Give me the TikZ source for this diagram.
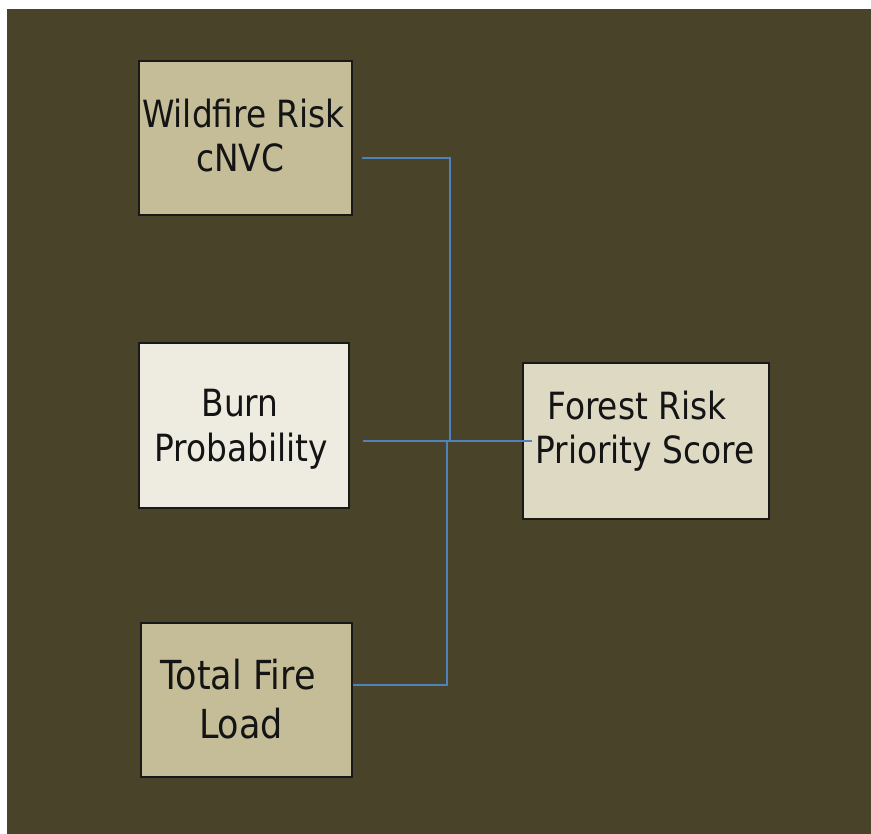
\documentclass[tikz,border=0pt]{standalone}
\usepackage{fontspec}
\setmainfont{DejaVu Sans}[FakeStretch=0.875]
\usetikzlibrary{calc}
\definecolor{bgolive}{HTML}{494429}
\definecolor{tandark}{HTML}{C4BD97}
\definecolor{tanlight}{HTML}{EEECE1}
\definecolor{tanmid}{HTML}{DDD9C3}
\definecolor{linkblue}{HTML}{4F81BD}
\tikzset{
  box/.style={draw=black!90, line width=2pt, inner sep=0pt, anchor=north west},
  txt/.style={anchor=base, inner sep=0pt, font=\fontsize{37.5}{44}\selectfont, text=black!92},
  txtbig/.style={anchor=base, inner sep=0pt, font=\fontsize{40}{48}\selectfont, text=black!92},
  link/.style={draw=linkblue, line width=2pt}
}
\begin{document}
\begin{tikzpicture}[x=1pt,y=-1pt]
\useasboundingbox (0,0) rectangle (871,834);
\fill[white] (0,0) rectangle (871,834);
\fill[bgolive] (7,9) rectangle (871,834);
% boxes
\node[box, fill=tandark, minimum width=213pt, minimum height=154pt] (wild) at (138,60) {};
\node[box, fill=tanlight, minimum width=210pt, minimum height=165pt] (burn) at (138,342) {};
\node[box, fill=tandark, minimum width=211pt, minimum height=154pt] (total) at (140,622) {};
\node[box, fill=tanmid, minimum width=246pt, minimum height=156pt] (forest) at (522,362) {};
% texts
\node[txt] (wild1) at (243.5,128) {Wildfire Risk};
\node[txt] (wild2) at (240,172) {cNVC};
\node[txt] (burn1) at (240,417) {Burn};
\node[txt] (burn2) at (241,462) {Probability};
\node[txt] (forest1) at (637,420) {Forest Risk};
\node[txt] (forest2) at (645,464) {Priority Score};
\node[txtbig] (total1) at (238,689) {Total Fire};
\node[txtbig] (total2) at (241,738) {Load};
% connector points
\coordinate (wout) at ($(wild.north east)+(9,98)$);
\coordinate (bout) at ($(burn.north east)+(13,99)$);
\coordinate (tout) at ($(total.north east)+(0,63)$);
\coordinate (fin) at ($(forest.north west)+(10,79)$);
\coordinate (jw) at (450,441);
\coordinate (jt) at (447,441);
% connectors
\draw[link] (wout) -| (jw);
\draw[link] (tout) -| (jt);
\draw[link] (bout) -- (fin);
\end{tikzpicture}
\end{document}
